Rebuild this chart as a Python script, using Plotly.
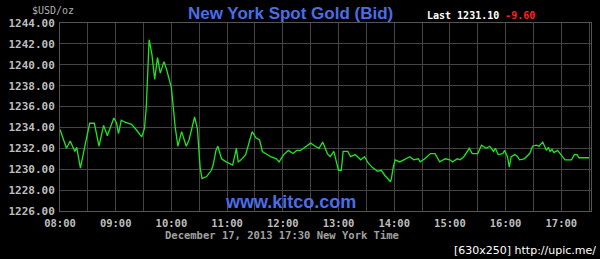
import plotly.graph_objects as go

times = ["08:00","08:07","08:11","08:16","08:18","08:22","08:27","08:32","08:37","08:42",
         "08:47","08:51","08:58","09:01","09:03","09:06","09:10","09:17","09:22","09:28",
         "09:31","09:33","09:36","09:39","09:42","09:45","09:48","09:52","09:55","10:00",
         "10:04","10:07","10:11","10:16","10:19","10:25","10:28","10:29","10:31","10:33",
         "10:38","10:43","10:45","10:48","10:50","10:54","10:59","11:06","11:10","11:12",
         "11:15","11:20","11:24","11:27","11:31","11:35","11:38","11:42","11:47","11:53",
         "11:56","12:01","12:06","12:11","12:15","12:19","12:25","12:30","12:35","12:39",
         "12:43","12:48","12:51","12:55","12:58","13:00","13:03","13:05","13:10","13:13",
         "13:18","13:24","13:28","13:32","13:36","13:42","13:46","13:50","13:56","13:57",
         "13:59","14:01","14:06","14:12","14:17","14:21","14:26","14:28","14:33","14:39",
         "14:44","14:49","14:55","15:00","15:03","15:08","15:11","15:15","15:21","15:24",
         "15:30","15:34","15:39","15:43","15:47","15:49","15:52","15:57","15:59","16:02",
         "16:04","16:06","16:10","16:13","16:15","16:20","16:26","16:29","16:33","16:36",
         "16:40","16:42","16:44","16:46","16:48","16:50","16:52","16:56","16:59","17:01",
         "17:04","17:09","17:11","17:14","17:17","17:19","17:30"]
prices = [1233.8,1232.0,1232.7,1231.7,1232.1,1230.1,1232.3,1234.4,1234.4,1232.2,
          1234.2,1233.2,1234.9,1234.4,1233.4,1234.7,1234.5,1234.3,1233.8,1233.1,
          1233.9,1236.0,1242.4,1241.0,1238.6,1240.7,1239.2,1240.3,1239.5,1237.8,
          1234.1,1232.2,1233.6,1232.2,1232.8,1235.0,1233.9,1232.2,1230.1,1229.1,
          1229.3,1229.9,1230.4,1231.8,1232.2,1231.0,1230.7,1230.4,1232.0,1230.7,
          1230.9,1231.4,1232.6,1233.6,1233.0,1232.8,1231.7,1231.5,1231.2,1231.0,
          1230.7,1231.4,1231.8,1231.5,1231.8,1231.8,1232.2,1232.5,1232.2,1232.0,
          1232.6,1231.5,1231.2,1231.7,1230.6,1229.9,1229.9,1231.7,1231.7,1231.2,
          1231.4,1230.9,1231.2,1230.6,1230.2,1229.8,1229.9,1229.4,1228.8,1229.1,
          1230.2,1230.9,1230.7,1231.0,1231.2,1230.9,1231.0,1230.7,1231.0,1231.5,
          1231.5,1230.7,1231.0,1230.9,1230.7,1231.0,1230.9,1231.2,1232.0,1231.5,
          1231.5,1232.3,1232.0,1232.2,1231.7,1232.0,1231.4,1231.5,1231.8,1231.2,
          1230.2,1231.2,1231.4,1231.2,1230.9,1231.0,1231.5,1232.2,1232.3,1232.2,
          1232.6,1232.2,1231.8,1232.1,1231.7,1231.9,1231.6,1231.8,1231.5,1231.2,
          1230.9,1230.9,1230.9,1231.4,1231.4,1231.1,1231.1]

day = "2013-12-17"
hour_ticks = ["08:00","09:00","10:00","11:00","12:00","13:00","14:00","15:00","16:00","17:00"]
y_ticks = [1226, 1228, 1230, 1232, 1234, 1236, 1238, 1240, 1242, 1244]
title_text = "New York Spot Gold (Bid)"
last_price = "1231.10"
change = "-9.60"
unit_label = "$USD/oz"
date_label = "December 17, 2013 17:30 New York Time"
watermark = "www.kitco.com"
credit = "[630x250] http://upic.me/"

x = [f"{day} {t}" for t in times]

fig = go.Figure()
fig.add_trace(go.Scatter(x=x, y=prices, mode="lines",
                         line=dict(color="#1ee61e", width=1.3), hoverinfo="skip"))

mono = "DejaVu Sans Mono"
grid = "#444444"
fig.update_layout(
    width=600, height=259, autosize=False,
    paper_bgcolor="black", plot_bgcolor="black",
    margin=dict(l=58, r=8, t=23, b=48),
    showlegend=False,
    xaxis=dict(
        type="date",
        range=[f"{day} 08:00", f"{day} 17:32"],
        tickvals=[f"{day} {t}" for t in hour_ticks],
        ticktext=hour_ticks,
        tickfont=dict(family=mono, size=10.5, color="#bdbdbd", weight="bold"),
        ticklabelstandoff=2,
        showgrid=True, gridcolor=grid, gridwidth=1,
        minor=dict(dtick=30 * 60 * 1000, showgrid=True, gridcolor=grid, gridwidth=1),
        showline=True, linecolor="#555555", mirror=True,
        zeroline=False, ticks="", ticklen=0,
    ),
    yaxis=dict(
        range=[1226, 1244],
        tickvals=y_ticks,
        ticktext=[f"{v:.2f}" for v in y_ticks],
        tickfont=dict(family=mono, size=11, color="#bdbdbd", weight="bold"),
        ticklabelstandoff=2,
        showgrid=True, gridcolor=grid, gridwidth=1,
        showline=True, linecolor="#555555", mirror=True,
        zeroline=False, ticks="", ticklen=0,
    ),
)

fig.add_annotation(text=f"<b>{title_text}</b>", xref="paper", yref="paper", x=0.434, y=1.0,
                   xanchor="center", yanchor="bottom", yshift=-2, showarrow=False,
                   font=dict(family="Liberation Sans", size=17, color="#4a6ee6"))
fig.add_annotation(text=f"<b>Last {last_price} <span style='color:#ff2020'>{change}</span></b>",
                   xref="paper", yref="paper", x=0.687, y=1.0, xanchor="left", yanchor="bottom",
                   yshift=0, showarrow=False,
                   font=dict(family=mono, size=10, color="#ffffff"))
fig.add_annotation(text=unit_label, xref="paper", yref="paper", x=-0.057, y=1.0,
                   xanchor="left", yanchor="bottom", yshift=5, showarrow=False,
                   font=dict(family=mono, size=10, color="#b0b0b0"))
fig.add_annotation(text=f"<b>{watermark}</b>", xref="paper", yref="paper", x=0.434, y=0.0,
                   xanchor="center", yanchor="bottom", yshift=-3, showarrow=False,
                   font=dict(family="Liberation Sans", size=18, color="#4a6ee6"))
fig.add_annotation(text=date_label, xref="paper", yref="paper", x=0.418, y=0.0,
                   xanchor="center", yanchor="top", yshift=-16, showarrow=False,
                   font=dict(family=mono, size=10.5, color="#a0a0a0", weight="bold"))
fig.add_annotation(text=credit, xref="paper", yref="paper", x=1.013, y=0.0,
                   xanchor="right", yanchor="top", yshift=-31, showarrow=False,
                   font=dict(family="DejaVu Sans", size=11, color="#ffffff"))

fig.write_html("out.html")
